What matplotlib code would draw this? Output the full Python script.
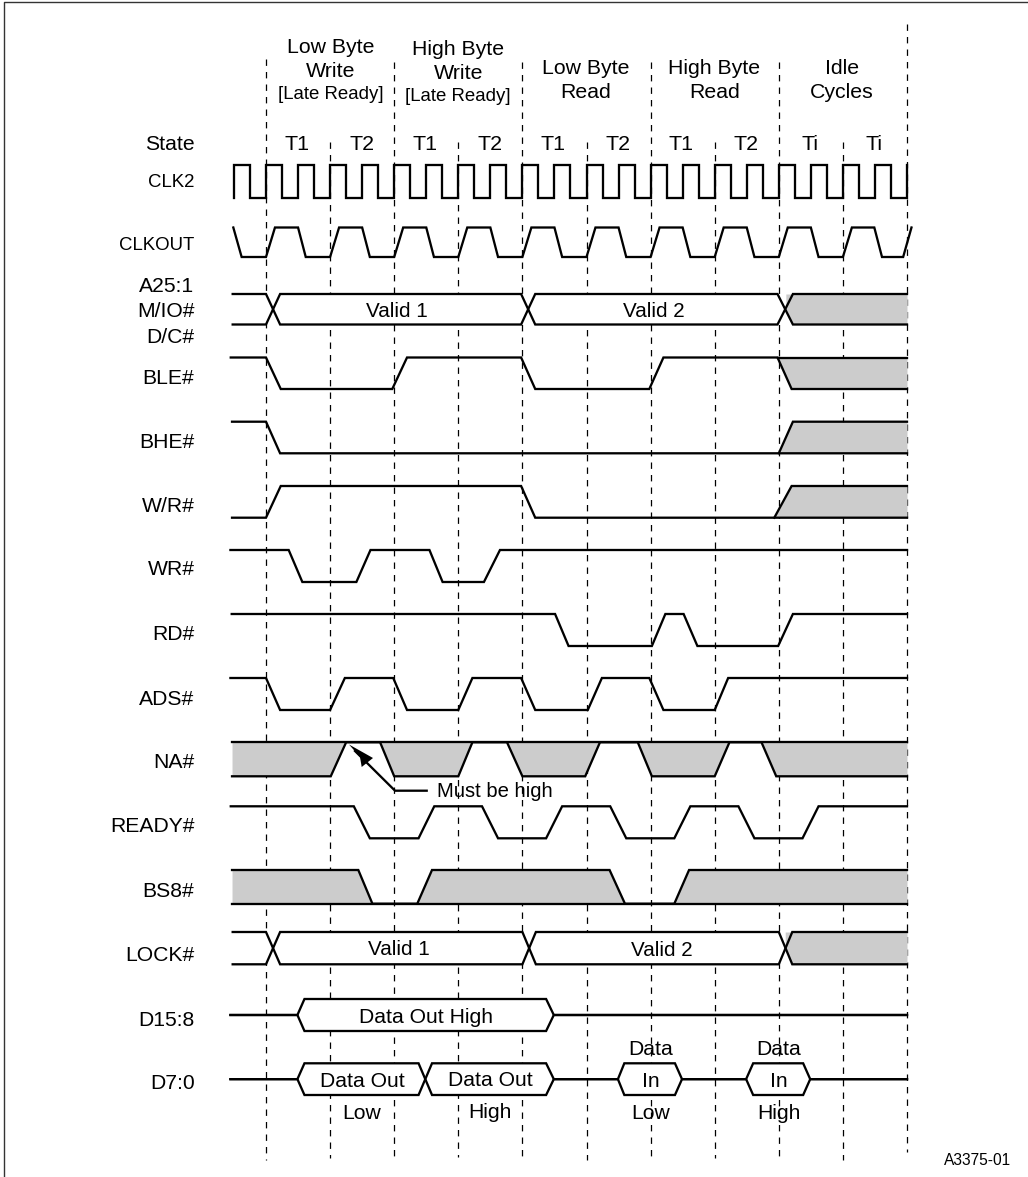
import matplotlib
matplotlib.use('Agg')
import matplotlib.pyplot as plt

plt.rcParams['font.family'] = ['Liberation Sans', 'DejaVu Sans']
plt.rcParams['lines.scale_dashes'] = False

# time is in T states, t=0 is the first dashed line
state_lines = [0, 1, 2, 3, 4, 5, 6, 7, 8, 9, 10]
line_top = [59, 142, 62, 142, 62, 142, 62, 142, 62, 142, 24]
line_bottom = [1160, 1158, 1158, 1157, 1157, 1160, 1158, 1158, 1160, 1160, 1152]

state_names = ['T1', 'T2', 'T1', 'T2', 'T1', 'T2', 'T1', 'T2', 'Ti', 'Ti']

clk2_t = [-0.5, -0.5, -0.25, 0, 0.25, 0.5, 0.75, 1, 1.25, 1.5, 1.75, 2, 2.25, 2.5, 2.75, 3,
          3.25, 3.5, 3.75, 4, 4.25, 4.5, 4.75, 5, 5.25, 5.5, 5.75, 6, 6.25, 6.5, 6.75, 7,
          7.25, 7.5, 7.75, 8, 8.25, 8.5, 8.75, 9, 9.25, 9.5, 9.75, 10]
clk2_lv = [0, 1, 0, 1, 0, 1, 0, 1, 0, 1, 0, 1, 0, 1, 0, 1,
           0, 1, 0, 1, 0, 1, 0, 1, 0, 1, 0, 1, 0, 1, 0, 1,
           0, 1, 0, 1, 0, 1, 0, 1, 0, 1, 0, 1]

clkout_t = [-0.51, -0.38, 0, 0.14, 0.5, 0.62, 1, 1.14, 1.5, 1.62, 2, 2.14, 2.5, 2.62, 3, 3.14,
            3.5, 3.62, 4, 4.14, 4.5, 4.62, 5, 5.14, 5.5, 5.62, 6, 6.14, 6.5, 6.62, 7, 7.14,
            7.5, 7.62, 8, 8.14, 8.5, 8.62, 9, 9.14, 9.49, 9.61, 9.94, 10.07]
clkout_lv = [1, 0, 0, 1, 1, 0, 0, 1, 1, 0, 0, 1, 1, 0, 0, 1,
             1, 0, 0, 1, 1, 0, 0, 1, 1, 0, 0, 1, 1, 0, 0, 1,
             1, 0, 0, 1, 1, 0, 0, 1, 1, 0, 0, 1]

addr_t = [-0.52, 0, 0.22, 3.98, 4.2, 7.98, 8.22, 10]
addr_lv = [1, 1, 0, 0, 1, 1, 0, 0]
addr_grey_t = [8.11, 8.22, 10]
addr_grey_lv = [0.5, 0, 0]

ble_t = [-0.55, 0, 0.23, 1.97, 2.2, 3.98, 4.2, 5.98, 6.2, 7.98, 8.2, 10]
ble_lv = [1, 1, 0, 0, 1, 1, 0, 0, 1, 1, 0, 0]
ble_grey_t = [7.98, 8.2, 10]
ble_grey_lv = [1, 0, 0]

bhe_t = [-0.53, 0, 0.22, 10]
bhe_lv = [1, 1, 0, 0]
bhe_grey_t = [8, 8.22, 10]
bhe_grey_lv = [0, 1, 1]

wr_dir_t = [-0.53, 0, 0.23, 3.98, 4.2, 10]
wr_dir_lv = [0, 0, 1, 1, 0, 0]
wr_dir_grey_t = [7.93, 8.2, 10]
wr_dir_grey_lv = [0, 1, 1]

wr_t = [-0.555, 0.354, 0.567, 1.41, 1.63, 2.55, 2.755, 3.4, 3.65, 10]
wr_lv = [1, 1, 0, 0, 1, 1, 0, 0, 1, 1]

rd_t = [-0.535, 4.51, 4.72, 6.02, 6.23, 6.515, 6.73, 7.99, 8.22, 10]
rd_lv = [1, 1, 0, 0, 1, 1, 0, 0, 1, 1]

ads_t = [-0.555, 0, 0.22, 1.0, 1.23, 1.985, 2.2, 3.0, 3.22, 3.98, 4.2, 5.02, 5.24, 5.98, 6.2, 7.0, 7.21, 10]
ads_lv = [1, 1, 0, 0, 1, 1, 0, 0, 1, 1, 0, 0, 1, 1, 0, 0, 1, 1]

na_t = [-0.53, 1.01, 1.25, 1.78, 2.0, 3.0, 3.22, 3.76, 4.0, 4.98, 5.21, 5.8, 6.02, 7.0, 7.23, 7.73, 7.96, 10]
na_lv = [0, 0, 1, 1, 0, 0, 1, 1, 0, 0, 1, 1, 0, 0, 1, 1, 0, 0]

ready_t = [-0.55, 1.37, 1.62, 2.38, 2.625, 3.37, 3.62, 4.37, 4.62, 5.37, 5.62, 6.37, 6.62, 7.37, 7.62, 8.37, 8.62, 10]
ready_lv = [1, 1, 0, 0, 1, 1, 0, 0, 1, 1, 0, 0, 1, 1, 0, 0, 1, 1]

bs8_t = [-0.53, 1.44, 1.66, 2.36, 2.59, 5.36, 5.6, 6.37, 6.6, 10]
bs8_lv = [1, 1, 0, 0, 1, 1, 0, 0, 1, 1]

lock_t = [-0.52, 0, 0.22, 4.0, 4.21, 8, 8.21, 10]
lock_lv = [1, 1, 0, 0, 1, 1, 0, 0]
lock_grey_t = [8.1, 8.21, 10]
lock_grey_lv = [0.5, 0, 0]

d15_t = [-0.555, 0.49, 0.6, 4.37, 4.49, 10]
d15_lv = [0.5, 0.5, 1, 1, 0.5, 0.5]

d7_t = [-0.555, 0.49, 0.6, 2.38, 2.59, 4.37, 4.49, 5.49, 5.59, 6.38, 6.49, 7.49, 7.6, 8.38, 8.49, 10]
d7_lv = [0.5, 0.5, 1, 1, 0, 0, 0.5, 0.5, 1, 1, 0.5, 0.5, 1, 1, 0.5, 0.5]

# pixel layout of the page
X0 = 266.0
STEP = 64.1
rows = {
    'clk2': (165, 197.5), 'clkout': (227.5, 257), 'addr': (294, 324.5), 'ble': (357.5, 389),
    'bhe': (421.7, 453.3), 'wr_dir': (486, 517.7), 'wr': (550, 582), 'rd': (614, 646),
    'ads': (678, 710), 'na': (742.3, 776.3), 'ready': (806.3, 838.3), 'bs8': (870, 903.7),
    'lock': (932, 964.3), 'd15': (999, 1031), 'd7': (1063.3, 1095),
}


def px(x):
    return (x - X0) / STEP


def level(row, lv):
    hi, lo = rows[row]
    return [lo - v * (lo - hi) for v in lv]


fig = plt.figure(figsize=(10.28, 11.77), dpi=100)
ax = fig.add_axes([0, 0, 1, 1])
ax.set_xlim(px(0), px(1028))
ax.set_ylim(1177, 0)
ax.axis('off')

# page border, left and top only
ax.plot([px(4.2), px(4.2), px(1028)], [1177, 1.6, 1.6], color='#333333', lw=1.0)

for t, top, bottom in zip(state_lines, line_top, line_bottom):
    ax.plot([t, t], [top, bottom], color='black', lw=0.9, linestyle=(0, (4.6, 4.4)), zorder=1)

LW = 1.65
GREY = '#cccccc'


def wave(row, t, lv, **kw):
    ax.plot(t, level(row, lv), color='black', lw=LW, solid_joinstyle='miter', zorder=3, **kw)


def bus(row, t, lv):
    # the two rails of a bus are mirror images, white inside so the dashes stop there
    inv = [1 - v for v in lv]
    ax.fill_between(t, level(row, lv), level(row, inv), color='white', lw=0, zorder=1.5)
    wave(row, t, lv)
    wave(row, t, inv)


def grey(row, t, lv, other):
    ax.fill_between(t, level(row, lv), level(row, [other] * len(t)), color=GREY, lw=0, zorder=2)


wave('clk2', clk2_t, clk2_lv, drawstyle='steps-post')
wave('clkout', clkout_t, clkout_lv)

grey('addr', addr_grey_t, addr_grey_lv, 1)
bus('addr', addr_t, addr_lv)

grey('ble', ble_grey_t, ble_grey_lv, 1)
wave('ble', ble_t, ble_lv)
wave('ble', [7.98, 10], [1, 1])

grey('bhe', bhe_grey_t, bhe_grey_lv, 0)
wave('bhe', bhe_t, bhe_lv)
wave('bhe', bhe_grey_t, bhe_grey_lv)

grey('wr_dir', wr_dir_grey_t, wr_dir_grey_lv, 0)
wave('wr_dir', wr_dir_t, wr_dir_lv)
wave('wr_dir', wr_dir_grey_t, wr_dir_grey_lv)

wave('wr', wr_t, wr_lv)
wave('rd', rd_t, rd_lv)
wave('ads', ads_t, ads_lv)

grey('na', na_t, na_lv, 1)
wave('na', na_t, na_lv)
wave('na', [-0.53, 10], [1, 1])

wave('ready', ready_t, ready_lv)

grey('bs8', bs8_t, bs8_lv, 0)
wave('bs8', bs8_t, bs8_lv)
wave('bs8', [-0.53, 6.33], [0, 0])
wave('bs8', [6.37, 10], [0, 0])

grey('lock', lock_grey_t, lock_grey_lv, 1)
bus('lock', lock_t, lock_lv)

bus('d15', d15_t, d15_lv)
bus('d7', d7_t, d7_lv)

# "Must be high" pointer
ax.plot([px(426.7), px(395), px(355)], [790.7, 790.7, 751], color='black', lw=LW, zorder=3)
ax.fill([px(349), px(373), px(361.7), px(360)], [744.5, 758, 767, 757], color='black', lw=0, zorder=4)


def label(x, y, s, size=15, ha='center'):
    ax.text(px(x), y, s, fontsize=size, ha=ha, va='baseline', color='black', zorder=5)


for s, y in [('State', 150), ('CLK2', 187.3), ('CLKOUT', 250), ('A25:1', 292.3), ('M/IO#', 316.7),
             ('D/C#', 342.7), ('BLE#', 384), ('BHE#', 448.3), ('W/R#', 512.3), ('WR#', 575),
             ('RD#', 640), ('ADS#', 705), ('NA#', 768.3), ('READY#', 831.7), ('BS8#', 897),
             ('LOCK#', 961), ('D15:8', 1026), ('D7:0', 1089)]:
    size = 13.4 if s in ('CLK2', 'CLKOUT') else 15.2
    label(194.5, y, s, size=size, ha='right')

for x, s in zip([297.3, 362, 425.3, 490, 553.3, 617.7, 681.3, 746, 810, 874.3], state_names):
    label(x, 150, s, size=15.4)

label(330.7, 53.3, 'Low Byte', 15.3)
label(330.7, 77.3, 'Write', 15.4)
label(330.7, 99.3, '[Late Ready]', 13.4)
label(458.3, 55, 'High Byte', 15.3)
label(458.3, 79, 'Write', 15.4)
label(458.3, 100.7, '[Late Ready]', 13.4)
label(586, 74, 'Low Byte', 15.3)
label(586, 98.3, 'Read', 15.3)
label(714.3, 74, 'High Byte', 15.3)
label(714.3, 98.3, 'Read', 15.3)
label(842, 74, 'Idle', 15.3)
label(842, 98.3, 'Cycles', 15.3)

label(397.3, 317.3, 'Valid 1', 14.9)
label(654.3, 317.3, 'Valid 2', 14.9)
label(398.5, 955, 'Valid 1', 14.9)
label(661.7, 955.7, 'Valid 2', 14.9)
label(426, 1022.7, 'Data Out High', 15.2)
label(362.3, 1086.7, 'Data Out', 15.2)
label(490.5, 1085.7, 'Data Out', 15.2)
label(362, 1119, 'Low', 15.2)
label(490, 1118.3, 'High', 15.2)
label(650.7, 1055, 'Data', 15.2)
label(650.7, 1086.7, 'In', 15.2)
label(650.7, 1119, 'Low', 15.2)
label(778.7, 1055, 'Data', 15.2)
label(778.7, 1086.7, 'In', 15.2)
label(778.7, 1119, 'High', 15.2)
label(436.7, 797.3, 'Must be high', 14.6, ha='left')
label(977.7, 1165, 'A3375-01', 11.2)

fig.savefig('out.png', dpi=100)
